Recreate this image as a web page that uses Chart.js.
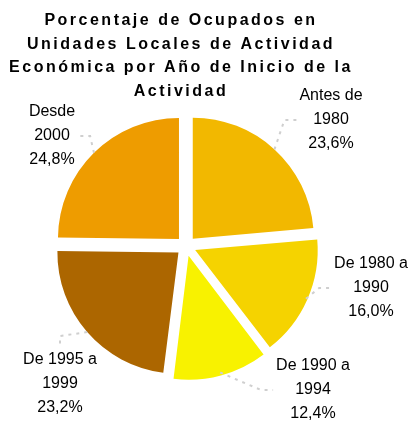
<!DOCTYPE html>
<html lang="es">
<head>
<meta charset="UTF-8">
<title>Ocupados por año de inicio de la actividad</title>
<script src="https://cdn.jsdelivr.net/npm/chart.js"></script>
<style>
  html, body { margin: 0; padding: 0; background: #fff; }
  #caja { width: 413px; height: 422px; }
</style>
</head>
<body>
<div id="caja"><canvas id="torta"></canvas></div>
<script>
  // datos
  const categorias = [['Antes de', '1980'], ['De 1980 a', '1990'], ['De 1990 a', '1994'], ['De 1995 a', '1999'], ['Desde', '2000']];
  const porcentajes = [23.6, 16.0, 12.4, 23.2, 24.8];
  const tituloLineas = ['Porcentaje de Ocupados en', 'Unidades Locales de Actividad', 'Económica por Año de Inicio de la', 'Actividad'];

  // estilo
  const colores = ['#F2B800', '#F5D300', '#F8F200', '#AC6600', '#EE9C00'];
  const fuente = '"Liberation Sans", Arial, sans-serif';
  const SEPARACION = 40; // offset de cada porción (Chart.js lo divide por 4)
  // dónde va cada etiqueta, relativo al centro de la torta
  const posEtiquetas = [[145, -126], [185, 42], [127, 144], [-126, 138], [-134, -110]];

  const etiquetasTorta = {
    id: 'etiquetasTorta',
    // el título va espaciado y un poco corrido a la izquierda, como en el original
    beforeDraw(chart) {
      chart.ctx.save();
      chart.ctx.letterSpacing = '2.5px';
      chart.ctx.translate(-5, 0);
    },
    beforeDatasetsDraw(chart) { chart.ctx.restore(); },
    afterDatasetsDraw(chart) {
      const ctx = chart.ctx;
      const arcs = chart.getDatasetMeta(0).data;
      ctx.save();
      ctx.font = '16px ' + fuente;
      ctx.textAlign = 'center';
      ctx.textBaseline = 'middle';
      arcs.forEach((arc, i) => {
        const { x, y, startAngle, endAngle, outerRadius } = arc.getProps(['x', 'y', 'startAngle', 'endAngle', 'outerRadius'], true);
        const medio = (startAngle + endAngle) / 2;
        const r = outerRadius + SEPARACION / 4;
        const px = x + Math.cos(medio) * r;
        const py = y + Math.sin(medio) * r;

        const pct = porcentajes[i].toFixed(1).replace('.', ',') + '%';
        const lineas = [...categorias[i], pct];
        const lx = x + posEtiquetas[i][0];
        const ly = y + posEtiquetas[i][1];
        const mitad = Math.max(...lineas.map(t => ctx.measureText(t).width)) / 2;

        let ex, ey, cx, cy;
        if (lx - mitad > px + 5) {
          ex = lx - mitad - 3; ey = ly; cx = ex - 12; cy = ey;
        } else if (lx + mitad < px - 5) {
          ex = lx + mitad + 3; ey = ly; cx = ex + 12; cy = ey;
        } else if (ly > py) {
          ex = lx; ey = ly - 40; cx = ex; cy = ey - 8;
        } else {
          ex = lx; ey = ly + 40; cx = ex; cy = ey + 8;
        }
        ctx.save();
        ctx.strokeStyle = '#cfcfcf';
        ctx.lineWidth = 2;
        ctx.setLineDash([3, 5]);
        ctx.beginPath();
        ctx.moveTo(px, py);
        ctx.lineTo(cx, cy);
        ctx.lineTo(ex, ey);
        ctx.stroke();
        ctx.restore();

        ctx.fillStyle = '#000';
        lineas.forEach((t, k) => ctx.fillText(t, lx, ly + (k - 1) * 24));
      });
      ctx.restore();
    }
  };

  new Chart(document.getElementById('torta'), {
    type: 'pie',
    data: {
      labels: categorias.map(c => c.join(' ')),
      datasets: [{
        data: porcentajes,
        backgroundColor: colores,
        borderWidth: 0,
        offset: SEPARACION
      }]
    },
    options: {
      responsive: true,
      maintainAspectRatio: false,
      animation: false,
      radius: 121,
      layout: { padding: { top: 0, left: 0, right: 41, bottom: 33 } },
      plugins: {
        legend: { display: false },
        tooltip: { enabled: false },
        title: {
          display: true,
          text: tituloLineas,
          color: '#000',
          font: { family: fuente, size: 16, weight: 'bold', lineHeight: 1.47 },
          padding: { top: 9, bottom: 0 }
        }
      }
    },
    plugins: [etiquetasTorta]
  });
</script>
</body>
</html>
